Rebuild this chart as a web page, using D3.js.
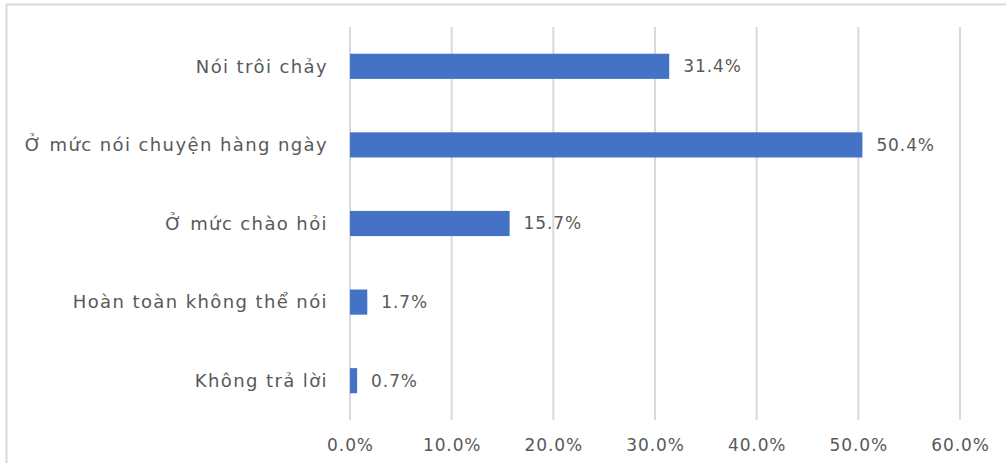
<!DOCTYPE html>
<html>
<head>
<meta charset="utf-8">
<script src="https://cdn.jsdelivr.net/npm/d3@7"></script>
<style>
  body { margin: 0; background: #fff; }
  text { font-family: "DejaVu Sans", Verdana, sans-serif; fill: #595959; }
</style>
</head>
<body>
<div id="chart"></div>
<script>
// data, top to bottom
var categories = ["Nói trôi chảy", "Ở mức nói chuyện hàng ngày", "Ở mức chào hỏi", "Hoàn toàn không thể nói", "Không trả lời"];
var values = [31.4, 50.4, 15.7, 1.7, 0.7];
var ticks = [0, 10, 20, 30, 40, 50, 60];

var W = 1006, H = 463;
var margin = {left: 350, right: 46, top: 27, bottom: 43};

var svg = d3.select("#chart").append("svg")
  .attr("width", W)
  .attr("height", H);

// frame (only top and left edges show in the crop)
svg.append("line").attr("x1", 6).attr("x2", W).attr("y1", 4.5).attr("y2", 4.5)
  .attr("stroke", "#d9d9d9").attr("stroke-width", 2);
svg.append("line").attr("x1", 6.5).attr("x2", 6.5).attr("y1", 4).attr("y2", H)
  .attr("stroke", "#d9d9d9").attr("stroke-width", 2);

var x = d3.scaleLinear().domain([0, 60]).range([margin.left, W - margin.right]);
var y = d3.scaleBand().domain(categories).range([margin.top, H - margin.bottom])
  .paddingInner(0.68).paddingOuter(0.34);

// gridlines
svg.append("g")
  .selectAll("line")
  .data(ticks)
  .enter().append("line")
  .attr("x1", function(d) { return x(d); })
  .attr("x2", function(d) { return x(d); })
  .attr("y1", margin.top)
  .attr("y2", H - margin.bottom)
  .attr("stroke", "#d9d9d9")
  .attr("stroke-width", 2);

// x tick labels
var xAxis = d3.axisBottom(x).tickValues(ticks).tickSize(0).tickPadding(0)
  .tickFormat(function(d) { return d.toFixed(1) + "%"; });
var gx = svg.append("g")
  .attr("transform", "translate(0," + (H - margin.bottom + 19) + ")")
  .call(xAxis);
gx.select(".domain").remove();
gx.selectAll("text").attr("font-size", 17).attr("font-family", null).style("letter-spacing", "0.9px");

// bars
svg.selectAll(".bar")
  .data(values)
  .enter().append("rect")
  .attr("class", "bar")
  .attr("x", x(0))
  .attr("y", function(d, i) { return y(categories[i]); })
  .attr("width", function(d) { return x(d) - x(0); })
  .attr("height", y.bandwidth())
  .attr("fill", "#4472c4");

// value labels
svg.selectAll(".val")
  .data(values)
  .enter().append("text")
  .attr("class", "val")
  .attr("x", function(d) { return x(d) + 14; })
  .attr("y", function(d, i) { return y(categories[i]) + y.bandwidth() / 2; })
  .attr("dy", "0.35em")
  .attr("font-size", 17)
  .style("letter-spacing", "0.9px")
  .text(function(d) { return d.toFixed(1) + "%"; });

// category labels
svg.selectAll(".cat")
  .data(categories)
  .enter().append("text")
  .attr("class", "cat")
  .attr("x", 328)
  .attr("y", function(d) { return y(d) + y.bandwidth() / 2; })
  .attr("dy", "0.35em")
  .attr("text-anchor", "end")
  .attr("font-size", 18)
  .style("letter-spacing", "1.4px")
  .text(function(d) { return d; });
</script>
</body>
</html>
